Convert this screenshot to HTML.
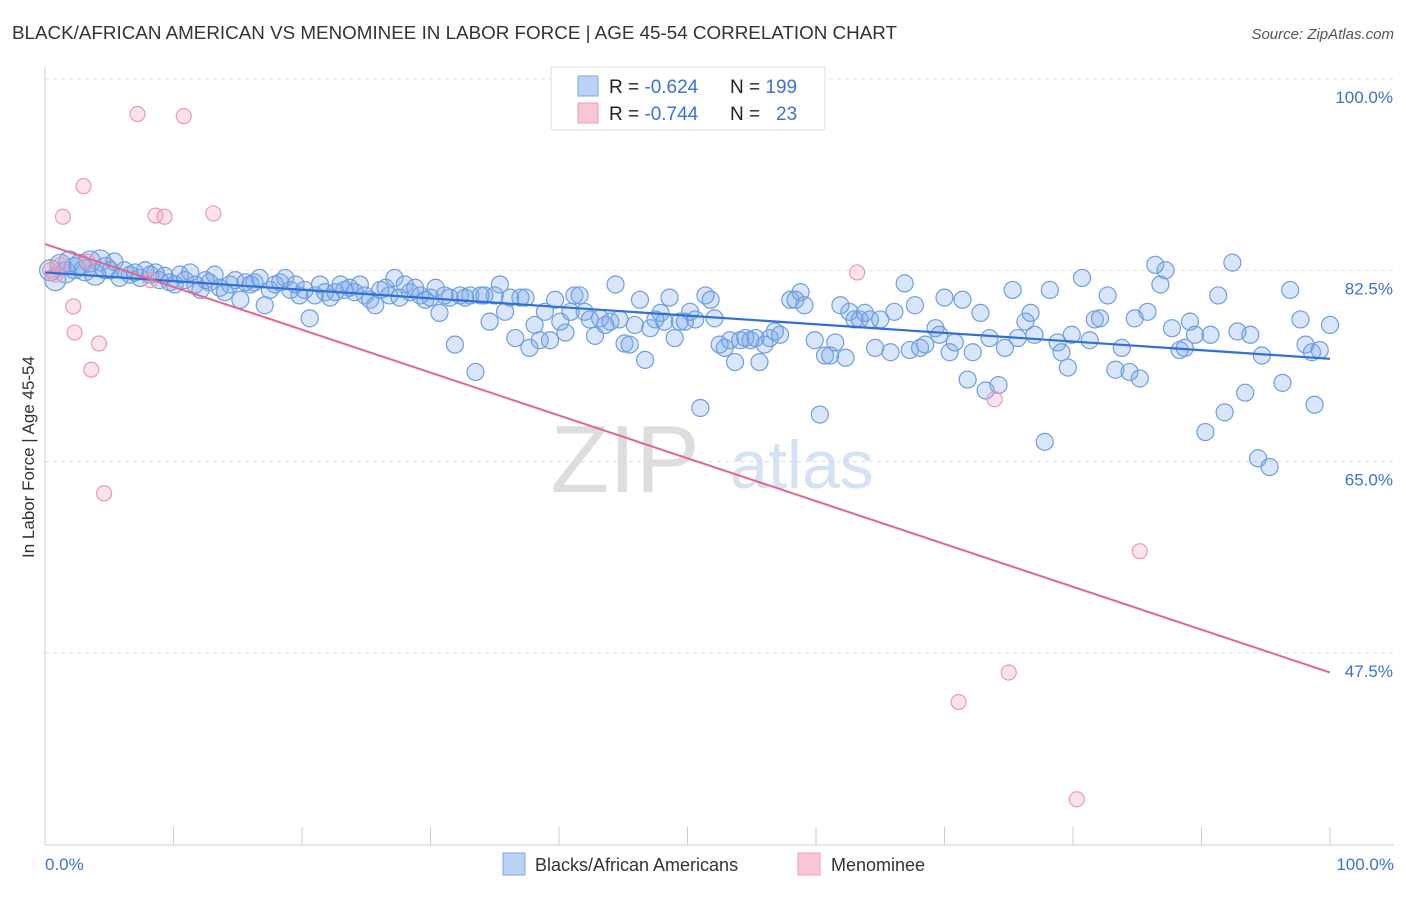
<!DOCTYPE html>
<html><head><meta charset="utf-8">
<style>
body{margin:0;background:#fff;font-family:"Liberation Sans",sans-serif;}
svg text{font-family:"Liberation Sans",sans-serif;}
</style></head>
<body>
<svg id="chart" width="1406" height="892">
<text x="12" y="39" font-size="18.5" fill="#333" textLength="885" lengthAdjust="spacingAndGlyphs">BLACK/AFRICAN AMERICAN VS MENOMINEE IN LABOR FORCE | AGE 45-54 CORRELATION CHART</text>
<text x="1394" y="39" font-size="15" fill="#555" font-style="italic" text-anchor="end">Source: ZipAtlas.com</text>
<text x="625" y="492" font-size="96" fill="#ddd" font-family="Liberation Serif" text-anchor="middle">ZIP</text>
<text x="802" y="488" font-size="68" fill="#d4e2f4" text-anchor="middle">atlas</text>
<g id="grid"></g>
<g id="axes"></g>
<g id="pts"></g>
<g id="lines"></g>
<text transform="translate(34,457) rotate(-90)" font-size="17" fill="#333" text-anchor="middle">In Labor Force | Age 45-54</text>
<text x="45" y="870" font-size="17" fill="#3b72d4">0.0%</text>
<text x="1394" y="870" font-size="17" fill="#3b72d4" text-anchor="end">100.0%</text>
<g>
<rect x="551" y="67" width="274" height="63" fill="#fff" stroke="#ddd"/>
<rect x="578" y="76" width="20" height="20" fill="#b9d2f5" stroke="#7aa6e6"/>
<rect x="578" y="103" width="20" height="20" fill="#f9c6d5" stroke="#ee9cb8"/>
<text x="609" y="93" font-size="19" fill="#222">R = <tspan fill="#3b72d4">-0.624</tspan><tspan x="730">N = </tspan><tspan fill="#3b72d4">199</tspan></text>
<text x="609" y="120" font-size="19" fill="#222">R = <tspan fill="#3b72d4">-0.744</tspan><tspan x="730">N = </tspan><tspan fill="#3b72d4" x="776">23</tspan></text>
</g>
<g>
<rect x="503" y="853" width="22" height="22" fill="#b9d2f5" stroke="#7aa6e6"/>
<text x="535" y="871" font-size="18" fill="#333">Blacks/African Americans</text>
<rect x="798" y="853" width="22" height="22" fill="#f9c6d5" stroke="#ee9cb8"/>
<text x="831" y="871" font-size="18" fill="#333">Menominee</text>
</g>
</svg>
<script>
const yTicks=[100,82.5,65,47.5];
const yTickLabels=["100.0%","82.5%","65.0%","47.5%"];
const xTicks=[0,10,20,30,40,50,60,70,80,90,100];
const blueTrend=[82.3,74.4];
const pinkTrend=[84.9,45.7];
const bluePoints=[[0.4,82.5],[0.8,81.6],[1.2,83.0],[1.6,82.3],[1.9,83.3],[2.3,82.7],[2.7,83.0],[3.1,82.5],[3.5,83.3],[3.9,82.1],[4.3,83.4],[4.7,82.7],[5.1,82.5],[5.4,83.3],[5.8,81.8],[6.2,82.5],[6.6,82.1],[7.0,82.3],[7.4,81.8],[7.8,82.5],[8.2,82.1],[8.6,82.3],[8.9,81.6],[9.3,82.0],[9.7,81.4],[10.1,81.2],[10.5,82.1],[10.9,81.6],[11.3,82.3],[11.7,81.2],[12.1,80.7],[12.5,81.6],[12.8,81.4],[13.2,82.1],[13.6,80.9],[14.0,80.5],[14.4,81.2],[14.8,81.6],[15.2,79.8],[15.6,81.4],[16.0,81.2],[16.3,81.4],[16.7,81.8],[17.1,79.3],[17.5,80.7],[17.9,81.2],[18.3,81.4],[18.7,81.8],[19.1,80.7],[19.5,81.2],[19.8,80.2],[20.2,80.7],[20.6,78.1],[21.0,80.2],[21.4,81.2],[21.8,80.5],[22.2,80.0],[22.6,80.5],[23.0,81.2],[23.3,80.7],[23.7,80.9],[24.1,80.5],[24.5,81.2],[24.9,80.2],[25.3,79.8],[25.7,79.3],[26.1,80.7],[26.5,80.9],[26.8,80.2],[27.2,81.8],[27.6,80.0],[28.0,81.2],[28.4,80.5],[28.8,80.9],[29.2,80.2],[29.6,79.8],[30.0,80.0],[30.4,80.9],[30.7,78.6],[31.1,80.2],[31.5,80.0],[31.9,75.7],[32.3,80.2],[32.7,80.0],[33.1,80.2],[33.5,73.2],[33.9,80.2],[34.2,80.2],[34.6,77.8],[35.0,80.2],[35.4,81.2],[35.8,78.7],[36.2,80.0],[36.6,76.3],[37.0,80.0],[37.4,80.0],[37.7,75.4],[38.1,77.5],[38.5,76.1],[38.9,78.7],[39.3,76.1],[39.7,79.8],[40.1,77.8],[40.5,76.8],[40.9,78.7],[41.2,80.2],[41.6,80.2],[42.0,78.7],[42.4,78.0],[42.8,76.5],[43.2,78.1],[43.6,77.5],[44.0,77.8],[44.4,81.2],[44.7,78.0],[45.1,75.8],[45.5,75.7],[45.9,77.5],[46.3,79.8],[46.7,74.3],[47.1,77.2],[47.5,78.0],[47.9,78.6],[48.2,77.8],[48.6,80.0],[49.0,76.3],[49.4,77.8],[49.8,77.8],[50.2,78.7],[50.6,78.0],[51.0,69.9],[51.4,80.2],[51.8,79.8],[52.1,78.1],[52.5,75.7],[52.9,75.4],[53.3,76.1],[53.7,74.1],[54.1,76.1],[54.5,76.3],[54.9,76.1],[55.3,76.3],[55.6,74.1],[56.0,75.7],[56.4,76.3],[56.8,76.9],[57.2,76.6],[58.0,79.8],[58.4,79.8],[58.8,80.5],[59.1,79.3],[59.9,76.1],[60.3,69.3],[60.7,74.7],[61.1,74.7],[61.5,75.9],[61.9,79.3],[62.3,74.5],[62.6,78.7],[63.0,78.0],[63.4,78.0],[63.8,78.6],[64.2,78.0],[64.6,75.4],[65.0,78.0],[65.8,75.0],[66.1,78.7],[66.9,81.3],[67.3,75.2],[67.7,79.3],[68.1,75.4],[68.5,75.7],[69.3,77.2],[69.6,76.6],[70.0,80.0],[70.4,75.0],[70.8,75.9],[71.4,79.8],[71.8,72.5],[72.2,75.0],[72.8,78.6],[73.2,71.5],[73.5,76.3],[74.2,72.0],[74.7,75.4],[75.3,80.7],[75.7,76.3],[76.3,77.8],[76.7,78.6],[77.0,76.6],[77.8,66.8],[78.2,80.7],[78.8,75.9],[79.1,75.0],[79.6,73.6],[79.9,76.6],[80.7,81.8],[81.3,76.1],[81.7,78.0],[82.1,78.1],[82.7,80.2],[83.3,73.4],[83.8,75.4],[84.4,73.2],[84.8,78.1],[85.2,72.6],[85.8,78.7],[86.4,83.0],[86.8,81.2],[87.2,82.5],[87.7,77.2],[88.3,75.2],[88.7,75.4],[89.1,77.8],[89.5,76.6],[90.3,67.7],[90.7,76.6],[91.3,80.2],[91.8,69.5],[92.4,83.2],[92.8,76.9],[93.4,71.3],[93.8,76.6],[94.4,65.3],[94.7,74.7],[95.3,64.5],[96.3,72.2],[96.9,80.7],[97.7,78.0],[98.1,75.7],[98.6,75.0],[98.8,70.2],[99.2,75.2],[100,77.5]];
const pinkPoints=[[7.2,96.8],[10.8,96.6],[3.0,90.2],[1.4,87.4],[8.6,87.5],[9.3,87.4],[13.1,87.7],[2.2,79.2],[2.3,76.8],[4.2,75.8],[3.6,73.4],[4.6,62.1],[63.2,82.3],[73.9,70.7],[85.2,56.8],[75.0,45.7],[71.1,43.0],[80.3,34.1],[0.4,82.5],[0.8,82.1],[3.3,83.3],[8.2,81.6],[1.2,83.0]];
const NS="http://www.w3.org/2000/svg";
function X(v){return 45+v*12.85;}
function Y(v){return 79+(100-v)*10.93;}
function mk(tag,attrs,parent){const e=document.createElementNS(NS,tag);for(const k in attrs)e.setAttribute(k,attrs[k]);parent.appendChild(e);return e;}
const grid=document.getElementById('grid'),axes=document.getElementById('axes'),pts=document.getElementById('pts'),lines=document.getElementById('lines');
yTicks.forEach((t,i)=>{
 const l=mk('line',{x1:45,x2:1394,y1:Y(t),y2:Y(t),stroke:'#ddd','stroke-dasharray':'4,4'},grid);
 
 
 const tx=mk('text',{x:1393,y:Y(t)+24,'font-size':17,fill:'#3b72d4','text-anchor':'end'},grid);
 tx.textContent=yTickLabels[i];
 
 
});
const ax=mk('line',{x1:45,x2:1394,y1:845,y2:845,stroke:'#ccc'},axes);


const ay=mk('line',{x1:45,x2:45,y1:67,y2:845,stroke:'#ccc'},axes);


xTicks.forEach(t=>{
 const l=mk('line',{x1:X(t),x2:X(t),y1:827,y2:845,stroke:'#ccc'},axes);
 
 
});
bluePoints.forEach((p,i)=>{
 const c=mk('circle',{cx:X(p[0]),cy:Y(p[1]),r:(p[0]<5?10.5:8.5),fill:'rgba(120,165,235,0.28)',stroke:'#6f9ee0','stroke-width':1.2},pts);
 
 
});
pinkPoints.forEach(p=>{
 const c=mk('circle',{cx:X(p[0]),cy:Y(p[1]),r:7.5,fill:'rgba(245,160,190,0.3)',stroke:'#ea9ab6','stroke-width':1.2},pts);
 
 
});
const bl=mk('line',{x1:X(0),y1:Y(blueTrend[0]),x2:X(100),y2:Y(blueTrend[1]),stroke:'#2f6fd6','stroke-width':2.2},lines);


const pl=mk('line',{x1:X(0),y1:Y(pinkTrend[0]),x2:X(100),y2:Y(pinkTrend[1]),stroke:'#e4658f','stroke-width':2},lines);


</script>
</body></html>
